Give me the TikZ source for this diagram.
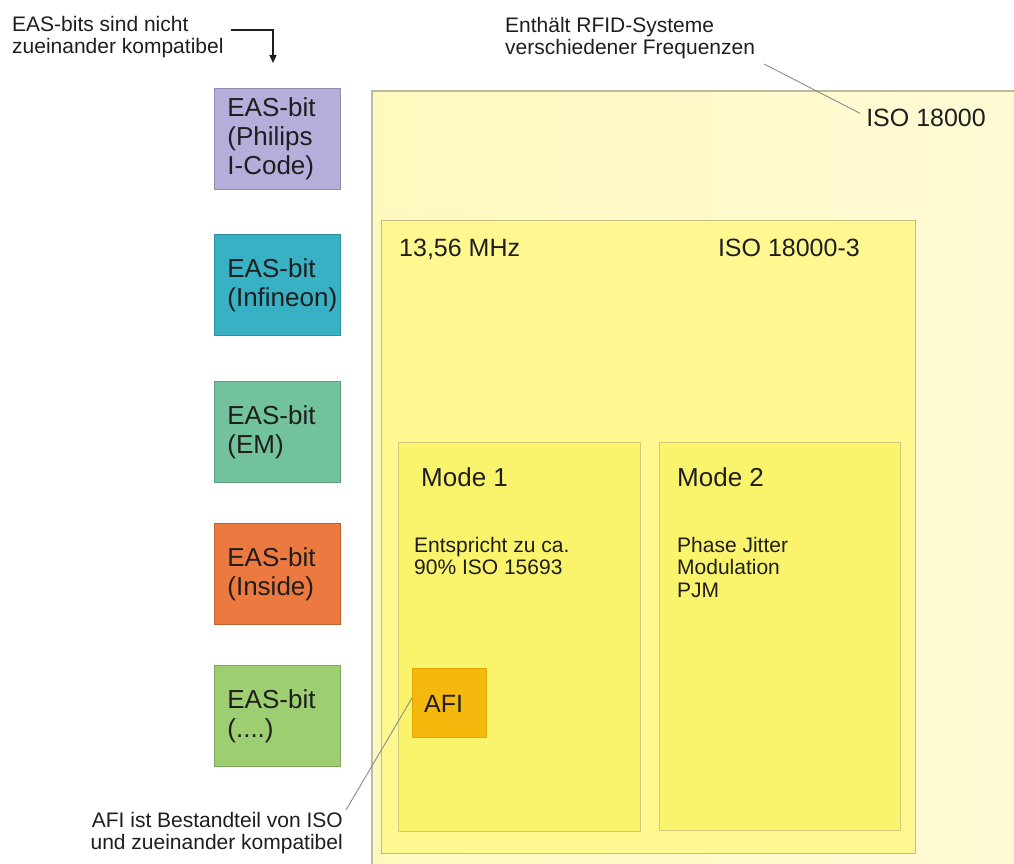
\documentclass[tikz,border=0pt]{standalone}
\usepackage{fontspec}
\setmainfont{Liberation Sans}
\usetikzlibrary{arrows.meta}
\definecolor{txt}{HTML}{1E1E1E}
\definecolor{outerL}{HTML}{FFF8BE}
\definecolor{outerR}{HTML}{FFFBD6}
\definecolor{outerB}{HTML}{BDBA9E}
\definecolor{innerF}{HTML}{FFF890}
\definecolor{innerB}{HTML}{C4BE80}
\definecolor{modeF}{HTML}{FAF36C}
\definecolor{modeB}{HTML}{D2CB7E}
\definecolor{afiF}{HTML}{F5B90E}
\definecolor{afiB}{HTML}{E0A700}
\definecolor{easPurple}{HTML}{B4AEDB}
\definecolor{easTeal}{HTML}{38B1C5}
\definecolor{easGreen}{HTML}{72C29D}
\definecolor{easOrange}{HTML}{EC7A40}
\definecolor{easLight}{HTML}{9DCF72}
\definecolor{leader}{HTML}{8C8C8C}
\newcommand\easfnt{\fontsize{26}{29}\selectfont\hyphenpenalty10000\exhyphenpenalty10000 }
\newcommand\bigfnt{\fontsize{25}{29}\selectfont}
\newcommand\modefnt{\fontsize{26}{30}\selectfont}
\newcommand\bodyfnt{\fontsize{21}{22.5}\selectfont}
\newcommand\notefnt{\fontsize{21}{22}\selectfont}
\tikzset{
  easbox/.style={draw=#1!80!black, fill=#1, line width=0.8, minimum width=126,
    minimum height=101, text width=100, inner xsep=13, inner ysep=0,
    align=left, anchor=north west, font=\easfnt, text=txt},
  lbl/.style={inner sep=0, text=txt},
  region/.style={anchor=north west, inner sep=0},
  conn/.style={draw=leader, line width=0.9},
}
\begin{document}
\begin{tikzpicture}[x=1pt,y=-1pt]
\useasboundingbox (0,0) rectangle (1014,864);
\clip (0,0) rectangle (1014,864);
\fill[white] (0,0) rectangle (1014,864);

% outer ISO 18000 region
\node[region, draw=outerB, line width=1.6, left color=outerL, right color=outerR,
  minimum width=670, minimum height=800] (iso) at (371,90) {};
% 13,56 MHz region
\node[region, draw=innerB, line width=1.2, fill=innerF,
  minimum width=534, minimum height=633] (hf) at (381,220) {};
% modes
\node[region, draw=modeB, line width=1, fill=modeF,
  minimum width=242, minimum height=389] (mode1) at (398,442) {};
\node[region, draw=modeB, line width=1, fill=modeF,
  minimum width=241, minimum height=388] (mode2) at (659,442) {};
% AFI
\node[region, draw=afiB, line width=0.8, fill=afiF,
  minimum width=74, minimum height=69] (afi) at (412,668) {};
\node[lbl, font=\bigfnt, anchor=base west] (afitxt) at (424,712) {AFI};

% labels
\node[lbl, font=\bigfnt, anchor=base east] (isolbl) at (986,127) {ISO 18000};
\node[lbl, font=\bigfnt, anchor=base west] (hflbl) at (399,256) {13,56 MHz};
\node[lbl, font=\bigfnt, anchor=base east] (hfiso) at (860,256) {ISO 18000-3};
\node[lbl, font=\modefnt, anchor=base west] (m1lbl) at (421,486) {Mode 1};
\node[lbl, font=\modefnt, anchor=base west] (m2lbl) at (677,486) {Mode 2};
\node[lbl, font=\bodyfnt, align=left, anchor=north west] (m1body) at (414,537)
  {Entspricht zu ca.\\90\% ISO 15693};
\node[lbl, font=\bodyfnt, align=left, anchor=north west] (m2body) at (677,537)
  {Phase Jitter\\Modulation\\PJM};

% EAS boxes
\node[easbox=easPurple] (eas1) at (214,88) {EAS-bit\\(Philips\\I-Code)};
\node[easbox=easTeal] (eas2) at (214,234) {EAS-bit\\(Infineon)};
\node[easbox=easGreen] (eas3) at (214,381) {EAS-bit\\(EM)};
\node[easbox=easOrange] (eas4) at (214,523) {EAS-bit\\(Inside)};
\node[easbox=easLight] (eas5) at (214,665) {EAS-bit\\(....)};

% annotations
\node[lbl, font=\notefnt, align=left, anchor=north west] (easnote) at (12,16)
  {EAS-bits sind nicht\\zueinander kompatibel};
\node[lbl, font=\notefnt, align=left, anchor=north west] (freqnote) at (505,17)
  {Enthält RFID-Systeme\\verschiedener Frequenzen};
\node[lbl, font=\notefnt, align=right, anchor=north east] (afinote) at (343,812)
  {AFI ist Bestandteil von ISO\\und zueinander kompatibel};

% connectors
\coordinate (easA) at (231,30);
\coordinate (easB) at (273,63);
\draw[draw=txt, line width=1.3, -{Triangle[length=8,width=7]}] (easA) -| (easB);
\coordinate (freqA) at (764,64);
\draw[conn] (freqA) -- ([xshift=-6,yshift=-4]isolbl.north west);
\coordinate (afiA) at (346,810);
\draw[conn] (afiA) -- ([yshift=-30]afi.north west);
\end{tikzpicture}
\end{document}
